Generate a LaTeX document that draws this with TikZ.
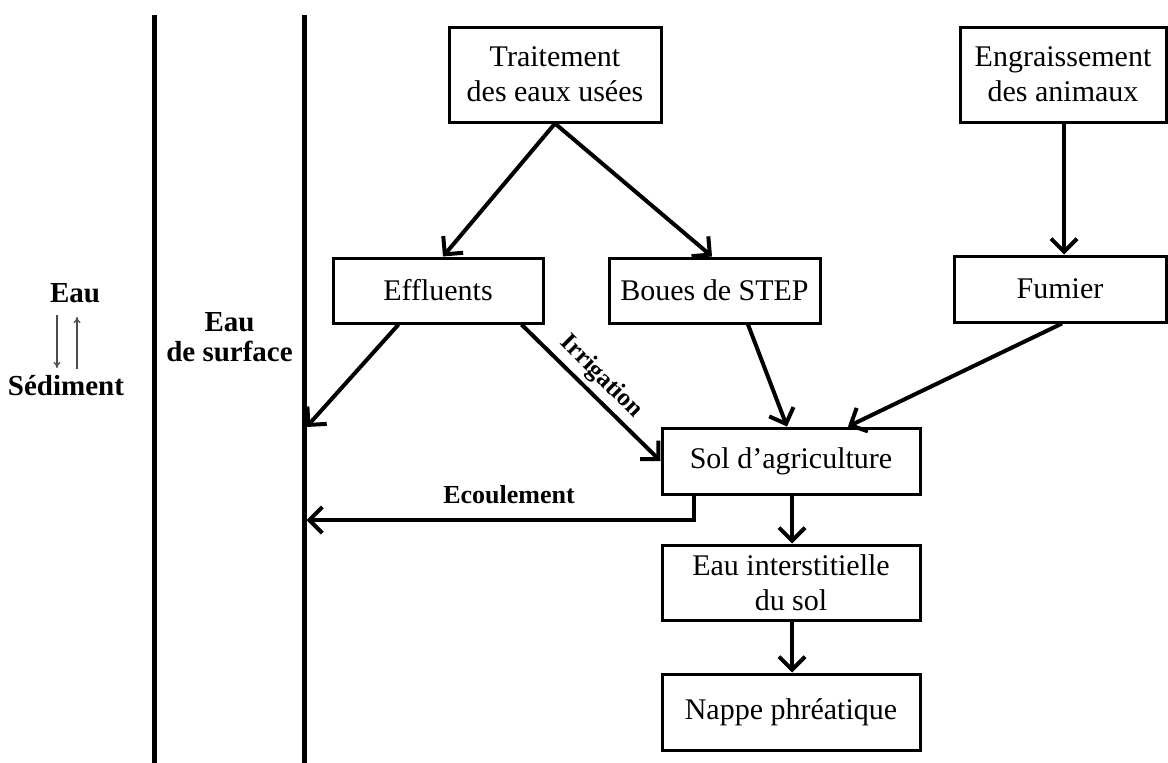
\documentclass[tikz,border=0pt]{standalone}
\usepackage{fontspec}
\setmainfont{Liberation Serif}
\usetikzlibrary{arrows.meta,calc}
\begin{document}
\begin{tikzpicture}[x=1pt,y=-1pt,
  box/.style={draw, line width=3pt, align=center, inner sep=0pt, font=\fontsize{30}{35}\selectfont},
  arr/.style={line width=4pt, -{Straight Barb[length=13pt,width=26pt]}},
  lbl/.style={font=\bfseries\fontsize{29}{30}\selectfont, align=center, inner sep=0pt},
  smallarr/.style={line width=1.3pt, draw=black!70, -{To[length=6pt,width=7pt]}},
  wall/.style={line width=5pt}
]
\useasboundingbox (0,0) rectangle (1168,763);

% walls
\coordinate (la) at (154,15); \coordinate (lb) at (154,763);
\coordinate (ra) at (304,15); \coordinate (rb) at (304,763);
\draw[wall] (la) -- (lb);
\draw[wall] (ra) -- (rb);
\coordinate (s1) at (306.5,427);
\coordinate (s2) at (306.5,520);

% boxes
\node[box, minimum width=212, minimum height=95] (trait) at (555,74.5) {Traitement\\des eaux usées};
\node[box, minimum width=206, minimum height=95] (engr) at (1063,74.5) {Engraissement\\des animaux};
\node[box, minimum width=210, minimum height=65] (effl) at (438,290.5) {Effluents};
\node[box, minimum width=211, minimum height=65] (boues) at (714.5,290.5) {Boues de STEP};
\node[box, minimum width=212, minimum height=66] (fum) at (1060,289) {Fumier};
\node[box, minimum width=258, minimum height=66] (sol) at (791,461) {Sol d'agriculture};
\node[box, minimum width=258, minimum height=75] (eauint) at (791,582.5) {Eau interstitielle\\du sol};
\node[box, minimum width=258, minimum height=76] (nappe) at (791,712) {Nappe phréatique};

% left labels
\node[lbl, anchor=base] (eau) at (75,302) {Eau};
\node[lbl, anchor=base] (sed) at (66,395) {Sédiment};
\node[lbl] (surf) at (229.5,337) {Eau\\de surface};
\coordinate (d1) at (57,315); \coordinate (d2) at (57,368);
\coordinate (u1) at (77,369); \coordinate (u2) at (77,317);
\draw[smallarr] (d1) -- (d2);
\draw[smallarr] (u1) -- (u2);

% connectors
\draw[arr] (trait.south) -- ($(effl.north)+(5,0)$);
\draw[arr] (trait.south) -- ($(boues.north)+(-2.5,0)$);
\draw[arr] ($(engr.south)+(1,0)$) -- ($(fum.north)+(4,0)$);
\draw[arr] ($(effl.south west)+(67,0)$) -- (s1);
\draw[arr] ($(effl.south east)+(-23,0)$) -- (sol.west);
\draw[arr] ($(boues.south)+(33.5,0)$) -- ($(sol.north)+(-4,0)$);
\draw[arr] ($(fum.south)+(2,0)$) -- ($(sol.north)+(57,0)$);
\draw[arr] ($(sol.south)+(1,0)$) -- ($(eauint.north)+(1,0)$);
\draw[arr] ($(eauint.south)+(1,0)$) -- ($(nappe.north)+(1,0)$);
\coordinate (ec) at ($(sol.south west)+(33,0)$);
\draw[arr] (ec) -- (ec |- s2) -- (s2);

% connector labels
\node[font=\bfseries\fontsize{26}{30}\selectfont, inner sep=0pt] (ecoul) at (509,495) {Ecoulement};
\node[font=\bfseries\fontsize{25}{30}\selectfont, inner sep=0pt, rotate=-45] (irrig) at (601,377) {Irrigation};
\end{tikzpicture}
\end{document}
